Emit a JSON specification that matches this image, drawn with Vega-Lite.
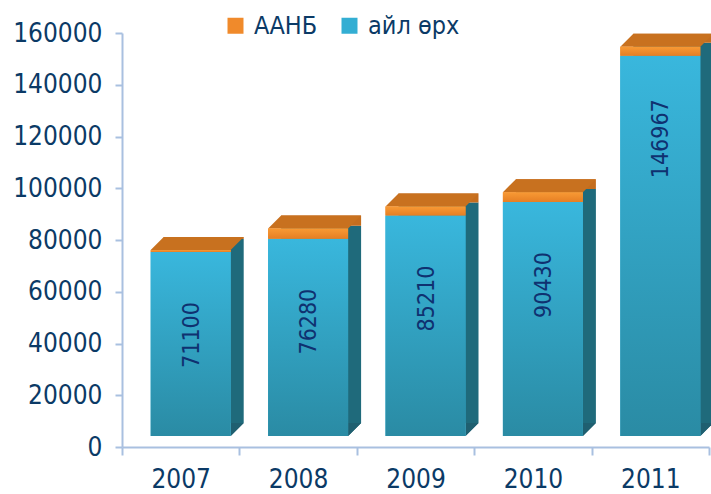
{
  "$schema": "https://vega.github.io/schema/vega-lite/v6.json",
  "autosize": {"type": "none"},
  "padding": {"left": 122, "top": 33, "right": 2, "bottom": 47},
  "width": 587,
  "height": 414,
  "background": "white",
  "config": {
    "view": {"stroke": null},
    "font": "DejaVu Sans Condensed"
  },
  "data": {
    "values": [
      {"year": "2007", "series": "айл өрх", "value": 71100},
      {"year": "2007", "series": "ААНБ", "value": 800},
      {"year": "2008", "series": "айл өрх", "value": 76280},
      {"year": "2008", "series": "ААНБ", "value": 3900},
      {"year": "2009", "series": "айл өрх", "value": 85210},
      {"year": "2009", "series": "ААНБ", "value": 3500},
      {"year": "2010", "series": "айл өрх", "value": 90430},
      {"year": "2010", "series": "ААНБ", "value": 3800},
      {"year": "2011", "series": "айл өрх", "value": 146967},
      {"year": "2011", "series": "ААНБ", "value": 3500}
    ]
  },
  "encoding": {
    "x": {
      "field": "year",
      "type": "nominal",
      "scale": {"paddingInner": 0, "paddingOuter": 0},
      "axis": {
        "title": null,
        "labelAngle": 0,
        "labelFont": "DejaVu Sans Condensed",
        "labelFontSize": 26,
        "labelColor": "#0b3a66",
        "labelPadding": 11,
        "domainColor": "#a9c0e0",
        "domainWidth": 2,
        "tickColor": "#a9c0e0",
        "tickWidth": 2,
        "tickSize": 8,
        "tickBand": "extent"
      }
    }
  },
  "layer": [
    {
      "mark": {"type": "bar", "width": 80, "xOffset": 23, "yOffset": -24},
      "encoding": {
        "y": {"field": "value", "type": "quantitative", "stack": "zero", "scale": {"domain": [0, 160000]},
          "axis": {
            "title": null,
            "values": [0, 20000, 40000, 60000, 80000, 100000, 120000, 140000, 160000],
            "format": "d",
            "grid": false,
            "labelFont": "DejaVu Sans Condensed",
            "labelFontSize": 26,
            "labelColor": "#0b3a66",
            "labelPadding": 13,
            "domainColor": "#a9c0e0",
            "domainWidth": 2,
            "tickColor": "#a9c0e0",
            "tickWidth": 2,
            "tickSize": 7
          }
        },
        "detail": {"field": "series"},
        "order": {"field": "series", "sort": "descending"},
        "color": {"condition": {"test": "datum.series === 'ААНБ'", "value": "#c46d1e"}, "value": "#1f6a7b"}
      }
    },
    {
      "mark": {"type": "point", "shape": "M 50 -13 L 63 -13 L 50 0 Z", "size": 4, "filled": true, "opacity": 1, "strokeWidth": 0, "yOffset": -11, "color": "#1f5f70"},
      "encoding": {
        "y": {"datum": 0, "type": "quantitative"}
      }
    },
    {
      "mark": {"type": "point", "shape": "M -46.5 6.5 L 33.5 6.5 L 46.5 -6.5 L -33.5 -6.5 Z", "size": 4, "filled": true, "opacity": 1, "strokeWidth": 0, "xOffset": 16.5, "yOffset": -17.5, "color": "#c8711f"},
      "encoding": {
        "y": {"aggregate": "sum", "field": "value", "type": "quantitative"}
      }
    },
    {
      "mark": {"type": "bar", "width": 80, "xOffset": 10, "yOffset": -11},
      "encoding": {
        "y": {"field": "value", "type": "quantitative", "stack": "zero"},
        "order": {"field": "series", "sort": "descending"},
        "color": {
          "field": "series",
          "type": "nominal",
          "scale": {
            "domain": ["ААНБ", "айл өрх"],
            "range": ["#f08a2b", "#33aed3"]
          },
          "legend": {
            "title": null,
            "orient": "none",
            "legendX": 101,
            "legendY": -20,
            "direction": "horizontal",
            "symbolType": "square",
            "symbolSize": 256,
            "symbolStrokeWidth": 0,
            "labelFont": "DejaVu Sans Condensed",
            "labelFontSize": 25,
            "labelColor": "#0b3a66",
            "labelOffset": 6,
            "columnPadding": 19
          }
        }
      }
    },
    {
      "mark": {"type": "bar", "width": 80, "xOffset": 10, "yOffset": -11},
      "encoding": {
        "y": {"field": "value", "type": "quantitative", "stack": "zero"},
        "detail": {"field": "series"},
        "order": {"field": "series", "sort": "descending"},
        "color": {
          "condition": {
            "test": "datum.series === 'ААНБ'",
            "value": {"gradient": "linear", "x1": 0, "y1": 0, "x2": 0, "y2": 1, "stops": [{"offset": 0, "color": "#f89a35"}, {"offset": 1, "color": "#e67f24"}]}
          },
          "value": {"gradient": "linear", "x1": 0, "y1": 0, "x2": 0, "y2": 1, "stops": [{"offset": 0, "color": "#39b7dd"}, {"offset": 1, "color": "#2a8ba4"}]}
        }
      }
    },
    {
      "transform": [{"filter": "datum.series === 'айл өрх'"}],
      "mark": {"type": "text", "angle": 270, "align": "center", "baseline": "middle", "xOffset": 11, "yOffset": 72, "font": "DejaVu Sans Condensed", "fontSize": 23, "color": "#0f3170"},
      "encoding": {
        "y": {"field": "value", "type": "quantitative"},
        "text": {"field": "value", "type": "quantitative", "format": "d"}
      }
    }
  ]
}
